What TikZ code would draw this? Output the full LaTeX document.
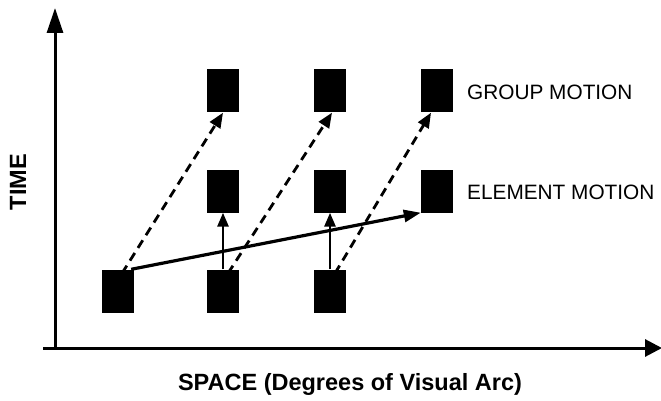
\documentclass[tikz,border=0pt]{standalone}
\usepackage{fontspec}
\setmainfont{Liberation Sans}
\usetikzlibrary{arrows.meta}
\tikzset{
  blk/.style={fill=black, minimum width=32pt, minimum height=43pt, inner sep=0pt, draw=none},
  axis/.style={line width=3pt, -{Triangle[length=25pt,width=16pt]}},
  solidarrow/.style={line width=3.2pt, -{Triangle[length=17pt,width=12pt]}},
  uparrow/.style={line width=2.8pt, -{Triangle[length=14pt,width=11pt]}},
  dasharrow/.style={line width=2.8pt, dash pattern=on 9pt off 6pt, -{Triangle[length=15pt,width=12pt]}},
  lbl/.style={inner sep=0pt, font=\fontsize{20.8}{24}\selectfont},
  axlbl/.style={inner sep=0pt, font=\bfseries\fontsize{23.5}{27}\selectfont}
}
\begin{document}
\begin{tikzpicture}[x=1pt,y=-1pt]
\useasboundingbox (0,0) rectangle (661,401);
% axes
\coordinate (O) at (55,348);
\coordinate (Ytop) at (55,8);
\coordinate (Xstart) at (43,348);
\coordinate (Xend) at (662,348);
\draw[line width=3pt] (Xstart) -- (O);
\draw[axis] (O) -- (Ytop);
\draw[line width=3pt, -{Triangle[length=17pt,width=17pt]}] (O) -- (Xend);
% blocks
\node[blk] (b1) at (118,291) {};
\node[blk] (b2) at (223,291) {};
\node[blk] (b3) at (330,291) {};
\node[blk] (m2) at (223,191) {};
\node[blk] (m3) at (330,191) {};
\node[blk] (m4) at (437,191) {};
\node[blk] (t2) at (223,91) {};
\node[blk] (t3) at (330,91) {};
\node[blk] (t4) at (437,91) {};
% dashed group motion arrows
\draw[dasharrow] ([xshift=4pt,yshift=-4pt]b1.north) -- (t2.south);
\draw[dasharrow] ([xshift=5pt,yshift=-4pt]b2.north) -- ([xshift=2pt]t3.south);
\draw[dasharrow] ([xshift=5pt,yshift=-4pt]b3.north) -- ([xshift=-6pt]t4.south);
% vertical arrows
\draw[uparrow] (b2.north) -- (m2.south);
\draw[uparrow] (b3.north) -- (m3.south);
% element motion arrow
\draw[solidarrow] ([xshift=-3pt]b1.north east) -- (m4.south west);
% labels
\node[lbl, anchor=west] (g) at (467,92) {GROUP MOTION};
\node[lbl, anchor=west] (e) at (467,192) {ELEMENT MOTION};
\node[axlbl] (sp) at (350,384) {SPACE (Degrees of Visual Arc)};
\node[axlbl, rotate=90] (tm) at (18,182) {TIME};
\end{tikzpicture}
\end{document}
